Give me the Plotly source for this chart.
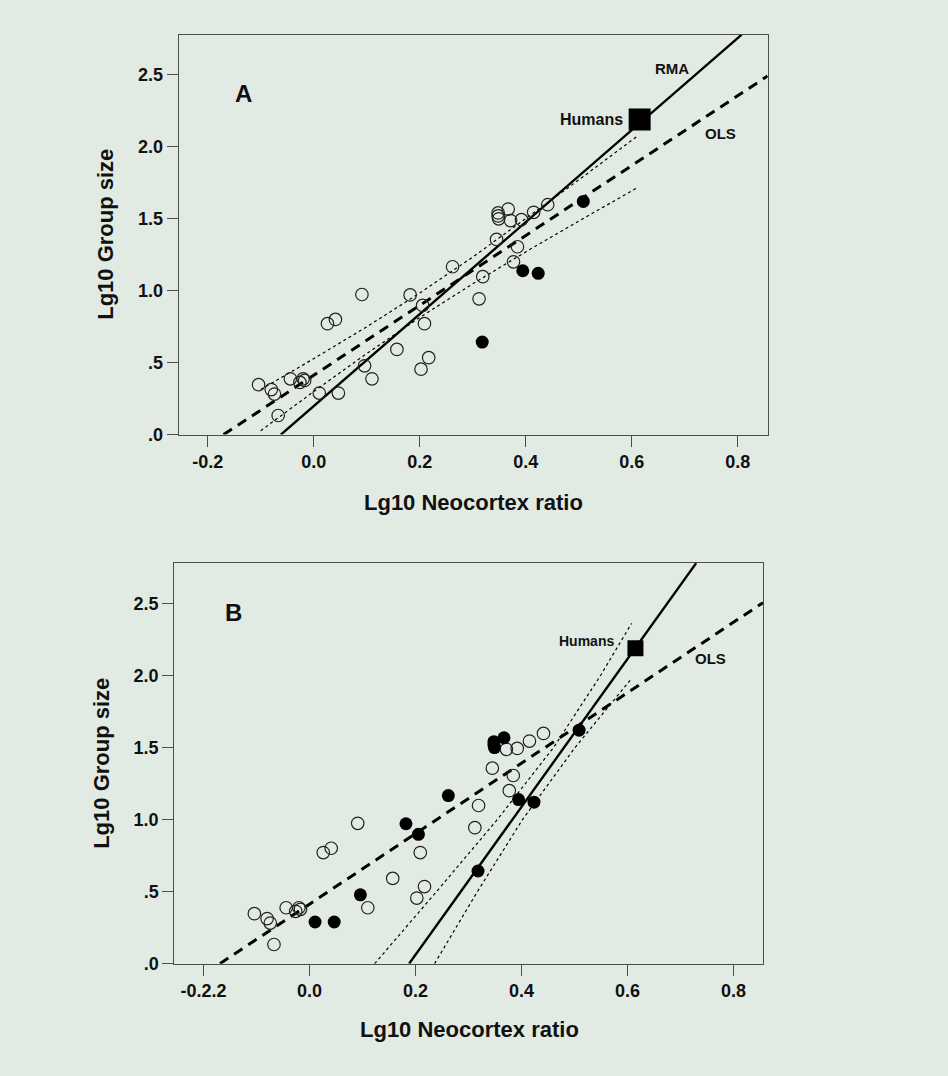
import plotly.graph_objects as go

# ---------------- data ----------------
neo_ratio = [-0.104, -0.080, -0.074, -0.067, -0.044, -0.020, -0.017, -0.026,
             0.0105, 0.0466, 0.026, 0.041, 0.091, 0.096, 0.110, 0.157,
             0.182, 0.2055, 0.209, 0.217, 0.2025, 0.262, 0.312, 0.319,
             0.345, 0.348, 0.348, 0.349, 0.367, 0.3715, 0.392, 0.3845,
             0.377, 0.415, 0.4415, 0.3945, 0.4236, 0.318, 0.5087]
group_size = [0.347, 0.313, 0.282, 0.133, 0.388, 0.388, 0.377, 0.363,
              0.289, 0.289, 0.771, 0.801, 0.974, 0.478, 0.388, 0.592,
              0.971, 0.898, 0.771, 0.535, 0.455, 1.167, 0.944, 1.098,
              1.357, 1.541, 1.520, 1.500, 1.568, 1.488, 1.494, 1.306,
              1.201, 1.545, 1.598, 1.139, 1.121, 0.643, 1.621]
filled_a = [0, 0, 0, 0, 0, 0, 0, 0,
            0, 0, 0, 0, 0, 0, 0, 0,
            0, 0, 0, 0, 0, 0, 0, 0,
            0, 0, 0, 0, 0, 0, 0, 0,
            0, 0, 0, 1, 1, 1, 1]
filled_b = [0, 0, 0, 0, 0, 0, 0, 0,
            1, 1, 0, 0, 0, 1, 0, 0,
            1, 1, 0, 0, 0, 1, 0, 0,
            0, 1, 1, 1, 1, 0, 0, 0,
            0, 0, 0, 1, 1, 1, 1]
humans_x = [0.615]
humans_y = [2.19]

# regression lines, panel A
rma_a_x = [-0.062, 0.8075]
rma_a_y = [0.0, 2.78]
ols_a_x = [-0.170, 0.8566]
ols_a_y = [0.0, 2.493]
ci_a_x = [-0.10, 0.0, 0.1, 0.2, 0.3, 0.4, 0.5, 0.61]
ci_a_hi = [0.313, 0.528, 0.749, 0.984, 1.234, 1.499, 1.770, 2.073]
ci_a_lo = [0.027, 0.299, 0.563, 0.814, 1.048, 1.270, 1.484, 1.715]

# regression lines, panel B
rma_b_x = [0.188, 0.7296]
rma_b_y = [0.0, 2.78]
ols_b_x = [-0.169, 0.8557]
ols_b_y = [0.0, 2.506]
ci_b_left_x = [0.123, 0.2397, 0.3543, 0.4604, 0.5492, 0.6077]
ci_b_left_y = [0.0, 0.5, 1.0, 1.5, 2.0, 2.362]
ci_b_right_x = [0.236, 0.3168, 0.4019, 0.501, 0.6049]
ci_b_right_y = [0.0, 0.5, 1.0, 1.5, 1.967]

x_ticks = [-0.2, 0.0, 0.2, 0.4, 0.6, 0.8]
x_labels_a = ["-0.2", "0.0", "0.2", "0.4", "0.6", "0.8"]
x_labels_b = ["-0.2.2", "0.0", "0.2", "0.4", "0.6", "0.8"]
y_ticks = [0.0, 0.5, 1.0, 1.5, 2.0, 2.5]
y_labels = [".0", ".5", "1.0", "1.5", "2.0", "2.5"]

# ---------------- figure ----------------
W, H = 948, 1076
BG = "#e2ebe3"
FONT = "Liberation Sans, Arial, sans-serif"
INK = "#111111"
AX = "#4d4d4d"

fig = go.Figure()


def add_points(flags, xa, ya, hsize):
    ox = [x for x, f in zip(neo_ratio, flags) if not f]
    oy = [y for y, f in zip(group_size, flags) if not f]
    fx = [x for x, f in zip(neo_ratio, flags) if f]
    fy = [y for y, f in zip(group_size, flags) if f]
    fig.add_trace(go.Scatter(x=ox, y=oy, mode="markers", xaxis=xa, yaxis=ya,
                             marker=dict(symbol="circle-open", size=12.5, color="#222222",
                                         line=dict(width=1.2, color="#222222")),
                             showlegend=False, hoverinfo="skip"))
    fig.add_trace(go.Scatter(x=fx, y=fy, mode="markers", xaxis=xa, yaxis=ya,
                             marker=dict(symbol="circle", size=13, color="#000000"),
                             showlegend=False, hoverinfo="skip"))
    fig.add_trace(go.Scatter(x=humans_x, y=humans_y, mode="markers", xaxis=xa, yaxis=ya,
                             marker=dict(symbol="square", size=hsize, color="#000000"),
                             showlegend=False, hoverinfo="skip"))


def add_line(x, y, xa, ya, width, dash):
    fig.add_trace(go.Scatter(x=x, y=y, mode="lines", xaxis=xa, yaxis=ya,
                             line=dict(color="#000000", width=width, dash=dash),
                             showlegend=False, hoverinfo="skip"))


# Panel A
add_line(ci_a_x, ci_a_hi, "x", "y", 1.2, "3px,3px")
add_line(ci_a_x, ci_a_lo, "x", "y", 1.2, "3px,3px")
add_line(ols_a_x, ols_a_y, "x", "y", 3, "10px,7px")
add_line(rma_a_x, rma_a_y, "x", "y", 2.4, "solid")
add_points(filled_a, "x", "y", 22)

# Panel B
add_line(ci_b_left_x, ci_b_left_y, "x2", "y2", 1.2, "3px,3px")
add_line(ci_b_right_x, ci_b_right_y, "x2", "y2", 1.2, "3px,3px")
add_line(ols_b_x, ols_b_y, "x2", "y2", 3, "10px,7px")
add_line(rma_b_x, rma_b_y, "x2", "y2", 2.4, "solid")
add_points(filled_b, "x2", "y2", 16)


def px_x(p):
    return p / W


def px_y(p):
    return 1 - p / H


axis_common = dict(showline=True, mirror=True, linecolor=AX, linewidth=1.3,
                   ticks="outside", ticklen=11, tickwidth=1.3, tickcolor=AX,
                   showgrid=False, zeroline=False,
                   tickfont=dict(family=FONT, size=18, color=INK, weight="bold"))

fig.update_layout(
    width=W, height=H,
    margin=dict(l=0, r=0, t=0, b=0),
    paper_bgcolor=BG, plot_bgcolor=BG,
    xaxis=dict(domain=[px_x(178.8), px_x(767.7)], range=[-0.2545, 0.8566],
               tickvals=x_ticks, ticktext=x_labels_a, anchor="y", **axis_common),
    yaxis=dict(domain=[px_y(438.7), px_y(35)], range=[0, 2.78],
               tickvals=y_ticks, ticktext=y_labels, anchor="x", **axis_common),
    xaxis2=dict(domain=[px_x(174.4), px_x(763.0)], range=[-0.2549, 0.8557],
                tickvals=x_ticks, ticktext=x_labels_b, anchor="y2", **axis_common),
    yaxis2=dict(domain=[px_y(972.7), px_y(568.3)], range=[0, 2.781],
                tickvals=y_ticks, ticktext=y_labels, anchor="x2", **axis_common),
)

ann = []


def text(x, y, s, size, xref="paper", yref="paper", angle=0):
    ann.append(dict(x=x, y=y, xref=xref, yref=yref, text=s, showarrow=False,
                    textangle=angle, xanchor="center", yanchor="middle",
                    font=dict(family=FONT, size=size, color=INK, weight="bold")))


# axis titles
text(px_x(473), px_y(507), "Lg10 Neocortex ratio", 22)
text(px_x(469), px_y(1039), "Lg10 Neocortex ratio", 22)
text(px_x(106), px_y(237), "Lg10 Group size", 22, angle=-90)
text(px_x(102), px_y(771), "Lg10 Group size", 22, angle=-90)

# panel letters
text(-0.1315, 2.37, "A", 24, "x", "y")
text(-0.143, 2.44, "B", 24, "x2", "y2")

# line / point labels
text(0.676, 2.546, "RMA", 15, "x", "y")
text(0.524, 2.192, "Humans", 16, "x", "y")
text(0.768, 2.09, "OLS", 15, "x", "y")
text(0.5236, 2.24, "Humans", 14, "x2", "y2")
text(0.757, 2.12, "OLS", 15, "x2", "y2")

fig.update_layout(annotations=ann)

fig.write_html(
    "out.html",
    config={"displayModeBar": False},
    post_script="document.documentElement.style.margin='0';"
                "document.body.style.margin='0';"
                "document.body.style.overflow='hidden';",
)
